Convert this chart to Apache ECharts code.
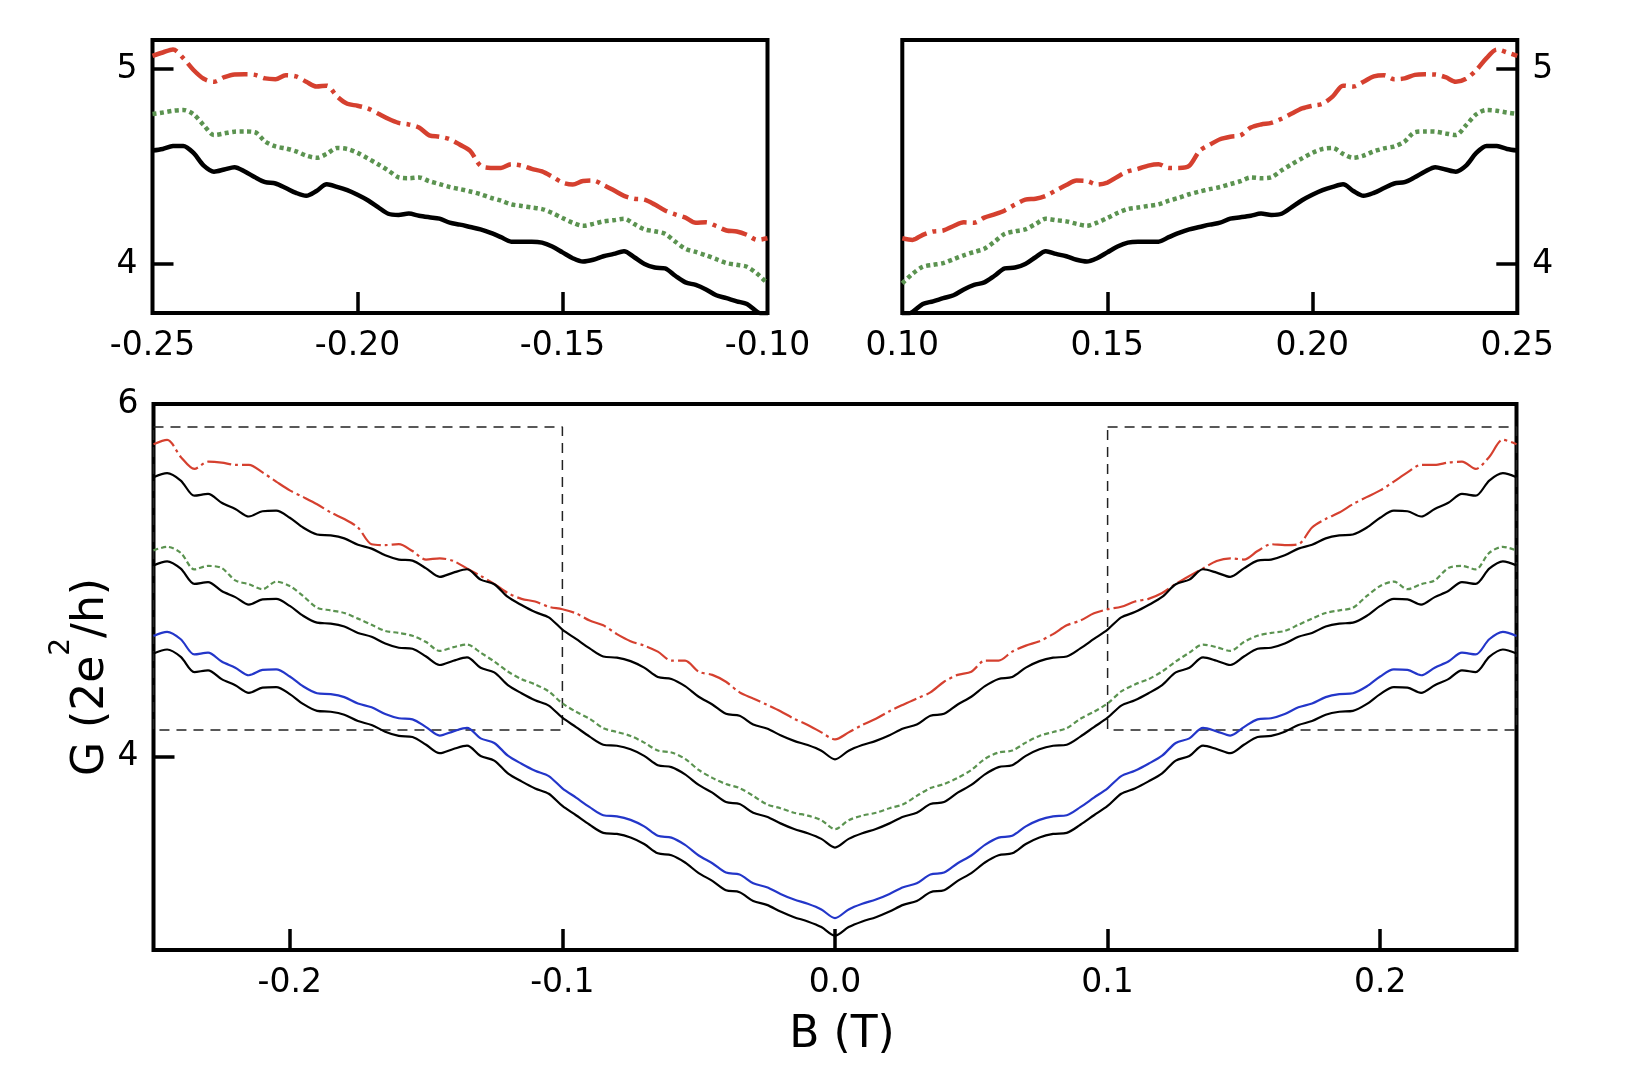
<!DOCTYPE html>
<html>
<head>
<meta charset="utf-8">
<title>G vs B</title>
<script src="https://cdn.jsdelivr.net/npm/echarts@6.0.0/dist/echarts.min.js"></script>
<style>
  html, body { margin: 0; padding: 0; background: #fff; }
  #chart { width: 1643px; height: 1086px; }
</style>
</head>
<body>
<div id="chart"></div>
<script>
// values
// main panel: B = -0.25 ... 0.25 T, every 0.005 T
var mainStart = -0.25, mainStep = 0.005;
var redMain = [5.772,5.797,5.700,5.632,5.673,5.668,5.655,5.655,5.612,5.560,5.510,5.472,5.432,5.385,5.348,5.300,5.205,5.200,5.205,5.166,5.118,5.125,5.110,5.067,5.025,4.980,4.928,4.895,4.880,4.850,4.836,4.813,4.772,4.745,4.695,4.655,4.630,4.596,4.545,4.545,4.482,4.464,4.425,4.365,4.330,4.295,4.258,4.215,4.180,4.138,4.098,
  4.138,4.180,4.215,4.258,4.295,4.330,4.365,4.425,4.464,4.482,4.545,4.545,4.596,4.630,4.655,4.695,4.745,4.772,4.813,4.836,4.850,4.880,4.895,4.928,4.980,5.025,5.067,5.110,5.125,5.118,5.166,5.205,5.200,5.205,5.300,5.348,5.385,5.432,5.472,5.510,5.560,5.612,5.655,5.655,5.668,5.673,5.632,5.700,5.797,5.772];
var blackMain1 = [5.585,5.608,5.566,5.480,5.490,5.440,5.405,5.362,5.392,5.395,5.355,5.298,5.260,5.255,5.238,5.202,5.180,5.142,5.118,5.112,5.068,5.020,5.044,5.063,5.004,4.978,4.906,4.860,4.820,4.790,4.721,4.668,4.614,4.568,4.562,4.542,4.505,4.452,4.441,4.400,4.340,4.296,4.243,4.232,4.182,4.160,4.122,4.090,4.066,4.034,3.985,
  4.034,4.066,4.090,4.122,4.160,4.182,4.232,4.243,4.296,4.340,4.400,4.441,4.452,4.505,4.542,4.562,4.568,4.614,4.668,4.721,4.790,4.820,4.860,4.906,4.978,5.004,5.063,5.044,5.020,5.068,5.112,5.118,5.142,5.180,5.202,5.238,5.255,5.260,5.298,5.355,5.395,5.392,5.362,5.405,5.440,5.490,5.480,5.566,5.608,5.585];
var greenMain = [5.170,5.190,5.156,5.062,5.082,5.070,5.000,4.978,4.950,4.993,4.968,4.910,4.845,4.830,4.815,4.783,4.748,4.713,4.702,4.686,4.650,4.600,4.621,4.636,4.590,4.540,4.483,4.440,4.410,4.370,4.302,4.255,4.215,4.162,4.140,4.118,4.080,4.035,4.024,3.988,3.925,3.880,3.845,3.822,3.778,3.730,3.708,3.682,3.666,3.640,3.589,
  3.640,3.666,3.682,3.708,3.730,3.778,3.822,3.845,3.880,3.925,3.988,4.024,4.035,4.080,4.118,4.140,4.162,4.215,4.255,4.302,4.370,4.410,4.440,4.483,4.540,4.590,4.636,4.621,4.600,4.650,4.686,4.702,4.713,4.748,4.783,4.815,4.830,4.845,4.910,4.968,4.993,4.950,4.978,5.000,5.070,5.082,5.062,5.156,5.190,5.170];
var blackMain2 = [5.085,5.108,5.066,4.980,4.990,4.940,4.905,4.862,4.892,4.895,4.855,4.798,4.760,4.755,4.738,4.702,4.680,4.642,4.618,4.612,4.568,4.520,4.544,4.563,4.504,4.478,4.406,4.360,4.320,4.290,4.221,4.168,4.114,4.068,4.062,4.042,4.005,3.952,3.941,3.900,3.840,3.796,3.743,3.732,3.682,3.660,3.622,3.590,3.566,3.534,3.485,
  3.534,3.566,3.590,3.622,3.660,3.682,3.732,3.743,3.796,3.840,3.900,3.941,3.952,4.005,4.042,4.062,4.068,4.114,4.168,4.221,4.290,4.320,4.360,4.406,4.478,4.504,4.563,4.544,4.520,4.568,4.612,4.618,4.642,4.680,4.702,4.738,4.755,4.760,4.798,4.855,4.895,4.892,4.862,4.905,4.940,4.990,4.980,5.066,5.108,5.085];
var blueMain = [4.685,4.708,4.666,4.580,4.590,4.540,4.505,4.462,4.492,4.495,4.455,4.398,4.360,4.355,4.338,4.302,4.280,4.242,4.218,4.212,4.168,4.120,4.144,4.163,4.104,4.078,4.006,3.960,3.920,3.890,3.821,3.768,3.714,3.668,3.662,3.642,3.605,3.552,3.541,3.500,3.440,3.396,3.343,3.332,3.282,3.260,3.222,3.190,3.166,3.134,3.085,
  3.134,3.166,3.190,3.222,3.260,3.282,3.332,3.343,3.396,3.440,3.500,3.541,3.552,3.605,3.642,3.662,3.668,3.714,3.768,3.821,3.890,3.920,3.960,4.006,4.078,4.104,4.163,4.144,4.120,4.168,4.212,4.218,4.242,4.280,4.302,4.338,4.355,4.360,4.398,4.455,4.495,4.492,4.462,4.505,4.540,4.590,4.580,4.666,4.708,4.685];
var blackMain3 = [4.585,4.608,4.566,4.480,4.490,4.440,4.405,4.362,4.392,4.395,4.355,4.298,4.260,4.255,4.238,4.202,4.180,4.142,4.118,4.112,4.068,4.020,4.044,4.063,4.004,3.978,3.906,3.860,3.820,3.790,3.721,3.668,3.614,3.568,3.562,3.542,3.505,3.452,3.441,3.400,3.340,3.296,3.243,3.232,3.182,3.160,3.122,3.090,3.066,3.034,2.985,
  3.034,3.066,3.090,3.122,3.160,3.182,3.232,3.243,3.296,3.340,3.400,3.441,3.452,3.505,3.542,3.562,3.568,3.614,3.668,3.721,3.790,3.820,3.860,3.906,3.978,4.004,4.063,4.044,4.020,4.068,4.112,4.118,4.142,4.180,4.202,4.238,4.255,4.260,4.298,4.355,4.395,4.392,4.362,4.405,4.440,4.490,4.480,4.566,4.608,4.585];

// zoom panels, every 0.0025 T
var zoomStep = 0.0025;
var leftStart = -0.25, rightStart = 0.10;
var redLeft = [5.068,5.085,5.100,5.056,4.995,4.950,4.935,4.958,4.972,4.973,4.970,4.952,4.948,4.968,4.962,4.935,4.910,4.915,4.860,4.822,4.812,4.798,4.772,4.745,4.724,4.716,4.700,4.660,4.653,4.640,4.612,4.580,4.504,4.493,4.493,4.512,4.505,4.488,4.475,4.448,4.418,4.408,4.426,4.428,4.405,4.378,4.350,4.335,4.330,4.305,4.275,4.255,4.238,4.212,4.214,4.195,4.172,4.167,4.150,4.124,4.132];
var greenLeft = [4.770,4.777,4.786,4.790,4.768,4.712,4.662,4.670,4.679,4.680,4.676,4.628,4.603,4.593,4.578,4.556,4.545,4.565,4.595,4.590,4.570,4.542,4.512,4.480,4.445,4.440,4.444,4.425,4.410,4.395,4.384,4.372,4.358,4.340,4.325,4.306,4.298,4.290,4.282,4.262,4.236,4.212,4.196,4.206,4.219,4.225,4.232,4.205,4.178,4.168,4.155,4.115,4.078,4.062,4.045,4.025,4.005,3.996,3.986,3.950,3.901];
var blackLeft = [4.582,4.590,4.605,4.606,4.570,4.505,4.474,4.485,4.497,4.475,4.445,4.420,4.413,4.390,4.365,4.350,4.375,4.409,4.396,4.379,4.355,4.327,4.292,4.258,4.252,4.259,4.248,4.240,4.233,4.212,4.202,4.190,4.178,4.160,4.138,4.115,4.115,4.115,4.110,4.090,4.060,4.030,4.013,4.022,4.040,4.052,4.066,4.035,4.000,3.982,3.978,3.940,3.906,3.893,3.870,3.840,3.825,3.809,3.795,3.755,3.730];
var redRight = [4.132,4.124,4.150,4.167,4.172,4.195,4.214,4.212,4.238,4.255,4.275,4.305,4.330,4.335,4.350,4.378,4.405,4.428,4.426,4.408,4.418,4.448,4.475,4.488,4.505,4.512,4.493,4.493,4.504,4.580,4.612,4.640,4.653,4.660,4.700,4.716,4.724,4.745,4.772,4.798,4.812,4.822,4.860,4.915,4.910,4.935,4.962,4.968,4.948,4.952,4.970,4.973,4.972,4.958,4.935,4.950,4.995,5.056,5.100,5.085,5.068];
var greenRight = [3.901,3.950,3.986,3.996,4.005,4.025,4.045,4.062,4.078,4.115,4.155,4.168,4.178,4.205,4.232,4.225,4.219,4.206,4.196,4.212,4.236,4.262,4.282,4.290,4.298,4.306,4.325,4.340,4.358,4.372,4.384,4.395,4.410,4.425,4.444,4.440,4.445,4.480,4.512,4.542,4.570,4.590,4.595,4.565,4.545,4.556,4.578,4.593,4.603,4.628,4.676,4.680,4.679,4.670,4.662,4.712,4.768,4.790,4.786,4.777,4.770];
var blackRight = [3.730,3.755,3.795,3.809,3.825,3.840,3.870,3.893,3.906,3.940,3.978,3.982,4.000,4.035,4.066,4.052,4.040,4.022,4.013,4.030,4.060,4.090,4.110,4.115,4.115,4.115,4.138,4.160,4.178,4.190,4.202,4.212,4.233,4.240,4.248,4.259,4.252,4.258,4.292,4.327,4.355,4.379,4.396,4.409,4.375,4.350,4.365,4.390,4.413,4.420,4.445,4.475,4.497,4.485,4.474,4.505,4.570,4.606,4.605,4.590,4.582];

// dashed boxes marking the zoomed ranges
var boxG = [4.151, 5.870];
var boxLeftB = [-0.25, -0.10];
var boxRightB = [0.10, 0.25];

// ticks and labels
var mainTicksB = [-0.2, -0.1, 0, 0.1, 0.2];
var mainTicksG = [4, 6];
var leftTicksB = [-0.20, -0.15];
var leftLabelsB = [-0.25, -0.20, -0.15, -0.10];
var rightTicksB = [0.15, 0.20];
var rightLabelsB = [0.10, 0.15, 0.20, 0.25];
var zoomTicksG = [4, 5];

var RED = '#d5402f', GREEN = '#5b9350', BLUE = '#2336c9', BLACK = '#000';
var FONT = 'DejaVu Sans';

function pairs(start, step, ys) {
    return ys.map(function (y, i) { return [+(start + i * step).toFixed(4), y]; });
}

function boxData(b, g) {
    return [[b[0], g[1]], [b[1], g[1]], [b[1], g[0]], [b[0], g[0]], [b[0], g[1]]];
}

var tickStyle = { inside: true, length: 21, lineStyle: { color: BLACK, width: 3.5 } };
var labelStyle = { color: BLACK, fontFamily: FONT, fontSize: 33 };

function xAx(grid, min, max, ticks, labels, digits) {
    return {
        type: 'value', gridIndex: grid, min: min, max: max, position: 'bottom',
        axisLine: { show: false, onZero: false },
        splitLine: { show: false },
        axisTick: Object.assign({ customValues: ticks }, tickStyle),
        axisLabel: Object.assign({
            customValues: labels, margin: 17,
            formatter: function (v) { return v.toFixed(digits); }
        }, labelStyle)
    };
}

function yAx(grid, min, max, ticks, labels, pos) {
    return {
        type: 'value', gridIndex: grid, min: min, max: max, position: pos,
        axisLine: { show: false, onZero: false },
        splitLine: { show: false },
        axisTick: Object.assign({ customValues: ticks }, tickStyle),
        axisLabel: Object.assign({
            customValues: labels, margin: 15,
            formatter: function (v) { return String(Math.round(v)); }
        }, labelStyle)
    };
}

function line(xi, data, color, width, type) {
    return {
        type: 'line', xAxisIndex: xi, yAxisIndex: xi, data: data,
        showSymbol: false, smooth: 0.3, silent: true, clip: true,
        lineStyle: { color: color, width: width, type: type }
    };
}

var myChart = echarts.init(document.getElementById('chart'));

var gridStyle = { show: true, borderColor: BLACK, borderWidth: 4, backgroundColor: 'transparent', outerBoundsMode: 'none' };

var xBottom = xAx(2, -0.25, 0.25, mainTicksB, mainTicksB, 1);
xBottom.name = 'B (T)';
xBottom.nameLocation = 'middle';
xBottom.nameGap = 64;
xBottom.nameTextStyle = { color: BLACK, fontFamily: FONT, fontSize: 44, padding: [0, 0, 0, 14] };

var yBottom = yAx(2, 2.904, 6, [4], mainTicksG, 'left');
yBottom.name = '{a|G (2e}{s|2}{a|/h)}';
yBottom.nameLocation = 'middle';
yBottom.nameGap = 40;
yBottom.nameMoveOverlap = false;
yBottom.nameTextStyle = {
    color: BLACK, fontFamily: FONT,
    rich: {
        a: { fontFamily: FONT, fontSize: 44, color: BLACK, verticalAlign: 'bottom', lineHeight: 66 },
        s: { fontFamily: FONT, fontSize: 28, color: BLACK, verticalAlign: 'top', lineHeight: 66 }
    }
};

var option = {
    backgroundColor: '#fff',
    animation: false,
    grid: [
        Object.assign({ left: 152.5, top: 40, width: 615, height: 273 }, gridStyle),
        Object.assign({ left: 902.3, top: 40, width: 615, height: 273 }, gridStyle),
        Object.assign({ left: 153.5, top: 404, width: 1363, height: 546 }, gridStyle)
    ],
    xAxis: [
        xAx(0, -0.25, -0.10, leftTicksB, leftLabelsB, 2),
        xAx(1, 0.10, 0.25, rightTicksB, rightLabelsB, 2),
        xBottom
    ],
    yAxis: [
        yAx(0, 3.749, 5.149, zoomTicksG, zoomTicksG, 'left'),
        yAx(1, 3.749, 5.149, zoomTicksG, zoomTicksG, 'right'),
        yBottom
    ],
    series: [
        // zoomed left
        line(0, pairs(leftStart, zoomStep, redLeft), RED, 4.5, [26, 6, 4, 6]),
        line(0, pairs(leftStart, zoomStep, greenLeft), GREEN, 4.5, [4, 3.5]),
        line(0, pairs(leftStart, zoomStep, blackLeft), BLACK, 4.5, 'solid'),
        // zoomed right
        line(1, pairs(rightStart, zoomStep, redRight), RED, 4.5, [26, 6, 4, 6]),
        line(1, pairs(rightStart, zoomStep, greenRight), GREEN, 4.5, [4, 3.5]),
        line(1, pairs(rightStart, zoomStep, blackRight), BLACK, 4.5, 'solid'),
        // main panel
        line(2, boxData(boxLeftB, boxG), '#222', 1.5, [10, 7]),
        line(2, boxData(boxRightB, boxG), '#222', 1.5, [10, 7]),
        line(2, pairs(mainStart, mainStep, redMain), RED, 2.2, [24, 4, 3, 4]),
        line(2, pairs(mainStart, mainStep, greenMain), GREEN, 2.2, [5, 3]),
        line(2, pairs(mainStart, mainStep, blueMain), BLUE, 2.2, 'solid'),
        line(2, pairs(mainStart, mainStep, blackMain1), BLACK, 2.2, 'solid'),
        line(2, pairs(mainStart, mainStep, blackMain2), BLACK, 2.2, 'solid'),
        line(2, pairs(mainStart, mainStep, blackMain3), BLACK, 2.2, 'solid')
    ]
};
option.series[6].smooth = false;
option.series[7].smooth = false;

myChart.setOption(option);
</script>
</body>
</html>
